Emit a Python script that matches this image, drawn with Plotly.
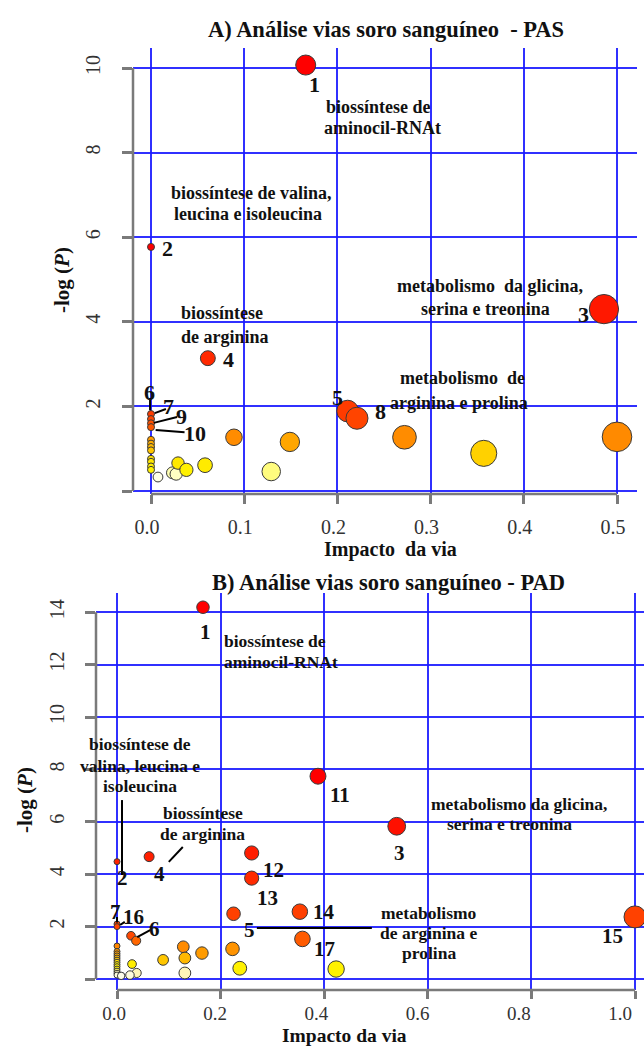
import math
import plotly.graph_objects as go

W, H = 644, 1046
FONT = "Liberation Serif"

# ---------------- data: panel A (PAS) ----------------
a_impact = [0.166, 0.0, 0.486, 0.061, 0.211, 0.221,
            0.0, 0.0, 0.0, 0.0,
            0.0, 0.0, 0.0, 0.0, 0.0, 0.0, 0.0, 0.0,
            0.0075, 0.023, 0.027, 0.029, 0.038, 0.058,
            0.089, 0.149, 0.129, 0.272, 0.357, 0.500]
a_logp = [10.07, 5.77, 4.30, 3.14, 1.89, 1.72,
          1.82, 1.70, 1.60, 1.51,
          1.21, 1.12, 1.04, 0.96, 0.76, 0.69, 0.58, 0.50,
          0.33, 0.43, 0.40, 0.66, 0.50, 0.61,
          1.27, 1.16, 0.46, 1.27, 0.89, 1.28]

# ---------------- data: panel B (PAD) ----------------
b_impact = [0.166, 0.0, 0.540, 0.062, 0.225, 0.388, 0.260, 0.260, 0.353, 1.0,
            0.027, 0.037, 0.358,
            0.0, 0.0, 0.0, 0.0, 0.0, 0.0, 0.0, 0.0, 0.0, 0.0, 0.0, 0.0, 0.0, 0.0, 0.0,
            0.423, 0.237, 0.223, 0.128, 0.131, 0.131, 0.164, 0.089, 0.029, 0.038,
            0.025, 0.008]
b_logp = [14.19, 4.48, 5.83, 4.67, 2.49, 7.74, 4.81, 3.85, 2.57, 2.37,
          1.65, 1.46, 1.53,
          2.10, 2.00, 1.26, 1.05, 0.96, 0.88, 0.80, 0.72, 0.64, 0.55, 0.47, 0.38,
          0.30, 0.22, 0.15,
          0.38, 0.41, 1.15, 1.23, 0.80, 0.23, 0.99, 0.73, 0.57, 0.23,
          0.15, 0.12]

a_xticks = [0.0, 0.1, 0.2, 0.3, 0.4, 0.5]
a_xticklabels = ["0.0", "0.1", "0.2", "0.3", "0.4", "0.5"]
a_yticks = [0, 2, 4, 6, 8, 10]
a_yticklabels = ["", "2", "4", "6", "8", "10"]
b_xticks = [0.0, 0.2, 0.4, 0.6, 0.8, 1.0]
b_xticklabels = ["0.0", "0.2", "0.4", "0.6", "0.8", "1.0"]
b_yticks = [0, 2, 4, 6, 8, 10, 12, 14]
b_yticklabels = ["", "2", "4", "6", "8", "10", "12", "14"]

a_title = "A) Análise vias soro sanguíneo  - PAS"
b_title = "B) Análise vias soro sanguíneo - PAD"
a_xtitle = "Impacto  da via"
b_xtitle = "Impacto da via"
y_title = "-log (<i>P</i>)"

# labels: (text, x, y, size, xanchor)
a_labels = [
    ("1", 0.175, 9.60, 22, "center"),
    ("biossíntese de", 0.186, 9.08, 18, "left"),
    ("aminocil-RNAt", 0.183, 8.58, 18, "left"),
    ("biossíntese de valina,", 0.019, 7.04, 18, "left"),
    ("leucina e isoleucina", 0.023, 6.55, 18, "left"),
    ("2", 0.018, 5.74, 22, "center"),
    ("metabolismo  da glicina,", 0.364, 4.85, 18, "center"),
    ("serina e treonina", 0.359, 4.30, 18, "center"),
    ("3", 0.464, 4.18, 22, "center"),
    ("biossíntese", 0.030, 4.21, 18, "left"),
    ("de arginina", 0.030, 3.64, 18, "left"),
    ("4", 0.083, 3.10, 22, "center"),
    ("metabolismo  de", 0.334, 2.67, 18, "center"),
    ("arginina e prolina", 0.330, 2.08, 18, "center"),
    ("5", 0.200, 2.22, 22, "center"),
    ("8", 0.246, 1.87, 22, "center"),
    ("6", -0.002, 2.34, 22, "center"),
    ("7", 0.019, 1.99, 22, "center"),
    ("9", 0.033, 1.75, 22, "center"),
    ("10", 0.047, 1.37, 22, "center"),
]
a_leaders = [(-0.001, 2.20, -0.001, 1.91), (0.004, 1.84, 0.016, 1.94),
             (0.003, 1.61, 0.028, 1.75), (0.005, 1.44, 0.036, 1.39)]

b_labels = [
    ("1", 0.170, 13.24, 21, "center"),
    ("biossíntese de", 0.203, 12.90, 17.5, "left"),
    ("aminocil-RNAt", 0.203, 12.10, 17.5, "left"),
    ("biossíntese de", 0.044, 8.97, 17.5, "center"),
    ("valina, leucina e", 0.044, 8.13, 17.5, "center"),
    ("isoleucina", 0.044, 7.37, 17.5, "center"),
    ("2", 0.0097, 3.85, 21, "center"),
    ("biossíntese", 0.166, 6.34, 17.5, "center"),
    ("de arginina", 0.166, 5.53, 17.5, "center"),
    ("4", 0.083, 4.01, 21, "center"),
    ("11", 0.430, 7.02, 21, "center"),
    ("metabolismo da glicina,", 0.776, 6.68, 17.5, "center"),
    ("serina e treonina", 0.757, 5.92, 17.5, "center"),
    ("3", 0.546, 4.81, 21, "center"),
    ("12", 0.303, 4.16, 21, "center"),
    ("13", 0.290, 3.09, 21, "center"),
    ("14", 0.400, 2.56, 21, "center"),
    ("17", 0.400, 1.15, 21, "center"),
    ("15", 0.956, 1.64, 21, "center"),
    ("5", 0.255, 1.87, 21, "center"),
    ("metabolismo", 0.602, 2.52, 17.5, "center"),
    ("de arginina e", 0.602, 1.76, 17.5, "center"),
    ("prolina", 0.602, 0.99, 17.5, "center"),
    ("7", -0.002, 2.56, 21, "center"),
    ("16", 0.031, 2.37, 21, "center"),
    ("6", 0.073, 1.91, 21, "center"),
]
b_leaders = [(0.0097, 6.83, 0.0097, 3.97), (0.100, 4.47, 0.127, 5.04),
             (0.270, 1.95, 0.492, 1.95), (0.039, 1.60, 0.064, 1.87),
             (0.006, 2.06, 0.015, 2.18), (0.0, 2.37, 0.0, 2.16)]

a_color_stops = [(0.30, "#FFFFF5"), (0.45, "#FFFFA8"), (0.49, "#FFF200"), (0.70, "#FFE600"),
                 (0.90, "#FFD000"), (1.10, "#FFB000"), (1.20, "#FFA000"), (1.27, "#FF8C00"),
                 (1.50, "#FF5A00"), (1.80, "#FF3C00"), (3.2, "#FF2800"), (4.3, "#FF1800"),
                 (5.8, "#FF0000")]
b_color_stops = [(0.10, "#FFFFF5"), (0.25, "#FFF5B0"), (0.35, "#FFF200"), (0.60, "#FFEE00"),
                 (0.75, "#FFC000"), (0.85, "#FFB000"), (1.0, "#FF9A00"), (1.2, "#FF9000"),
                 (1.3, "#FF8000"), (1.5, "#FF6000"), (1.65, "#FF4800"), (2.5, "#FF4000"),
                 (4.0, "#FF2800"), (5.8, "#FF1000"), (7.7, "#FF0000")]


def scale(stops):
    lo, hi = stops[0][0], stops[-1][0]
    return [[(v - lo) / (hi - lo), c] for v, c in stops], lo, hi


def px(x):
    return x / W


def py(y):
    return 1 - y / H


GRID = "rgba(25,25,255,0.9)"
AX = "#7a7a7a"

fig = go.Figure()
for imp, lp, stops, xa, ya, r0, k in [
    (a_impact, a_logp, a_color_stops, "x", "y", 3.5, 16),
    (b_impact, b_logp, b_color_stops, "x2", "y2", 3.0, 8),
]:
    cs, lo, hi = scale(stops)
    fig.add_trace(go.Scatter(
        x=imp, y=lp, mode="markers", xaxis=xa, yaxis=ya, cliponaxis=False,
        hoverinfo="x+y", showlegend=False,
        marker=dict(size=[2 * (r0 + k * math.sqrt(v)) for v in imp], color=lp,
                    colorscale=cs, cmin=lo, cmax=hi, opacity=1,
                    line=dict(color="#3a3a3a", width=1)),
    ))
# empty trace so the label-only overlay axis of panel B is drawn
fig.add_trace(go.Scatter(x=[], y=[], xaxis="x3", yaxis="y2", showlegend=False,
                         hoverinfo="skip"))

TF = dict(family=FONT, size=20, color="#333")
common_x = dict(ticks="outside", tickwidth=2.5, tickcolor=AX, showgrid=True, gridcolor=GRID,
                gridwidth=1.6, zeroline=False, showline=False, tickfont=TF)
common_y = dict(common_x, tickangle=-90)

fig.update_layout(
    width=W, height=H, margin=dict(l=0, r=0, t=0, b=0),
    paper_bgcolor="white", plot_bgcolor="white",
    xaxis=dict(common_x, domain=[px(133), px(637)], range=[-0.01931, 0.52146], anchor="y",
               tickvals=a_xticks, ticktext=a_xticklabels, ticklen=9, ticklabelstandoff=6,
               ticklabelshift=-4),
    yaxis=dict(common_y, domain=[py(494), py(48)], range=[-0.0709, 10.473], anchor="x",
               tickvals=a_yticks, ticktext=a_yticklabels, ticklen=10, ticklabelstandoff=14),
    xaxis2=dict(common_x, domain=[px(96), 1.0], range=[-0.04054, 1.01737], anchor="y2",
                tickvals=b_xticks, ticktext=b_xticklabels, ticklen=8, showticklabels=False),
    xaxis3=dict(domain=[px(96), 1.0], range=[-0.0356, 1.0474], anchor="y2", overlaying="x2",
                side="bottom", tickvals=b_xticks, ticktext=b_xticklabels, ticks="",
                showgrid=False, zeroline=False, showline=False,
                tickfont=dict(TF, size=19), ticklabelstandoff=10),
    yaxis2=dict(common_y, domain=[py(990), py(593)], range=[-0.4198, 14.733], anchor="x2",
                tickvals=b_yticks, ticktext=b_yticklabels, ticklen=10, ticklabelstandoff=13),
)

shapes = [
    dict(type="line", xref="x domain", yref="y", x0=0, x1=0, y0=0, y1=10,
         line=dict(color=AX, width=2.5)),
    dict(type="line", xref="x", yref="y domain", x0=0, x1=0.5, y0=0, y1=0,
         line=dict(color=AX, width=2.5)),
    dict(type="line", xref="x2 domain", yref="y2", x0=0, x1=0, y0=0, y1=14,
         line=dict(color=AX, width=2.5)),
    dict(type="line", xref="x2", yref="y2 domain", x0=0, x1=1.0, y0=0, y1=0,
         line=dict(color=AX, width=2.5)),
]
for (x0, y0, x1, y1) in a_leaders:
    shapes.append(dict(type="line", xref="x", yref="y", x0=x0, y0=y0, x1=x1, y1=y1,
                       line=dict(color="black", width=2)))
for (x0, y0, x1, y1) in b_leaders:
    shapes.append(dict(type="line", xref="x2", yref="y2", x0=x0, y0=y0, x1=x1, y1=y1,
                       line=dict(color="black", width=2)))
fig.update_layout(shapes=shapes)

ann = []
for labels, xr, yr in [(a_labels, "x", "y"), (b_labels, "x2", "y2")]:
    for t, x, y, s, xa in labels:
        ann.append(dict(text=f"<b>{t}</b>", x=x, y=y, xref=xr, yref=yr, xanchor=xa,
                        yanchor="middle", showarrow=False,
                        font=dict(family=FONT, size=s, color="#111")))

for t, x, y, s, ang in [
    (a_title, 386, 30, 22.5, 0), (b_title, 388, 582, 22.5, 0),
    (a_xtitle, 391, 549, 20, 0), (b_xtitle, 344, 1035, 19.5, 0),
    (y_title, 62, 280, 21, -90), (y_title, 25, 800, 21, -90),
]:
    ann.append(dict(text=f"<b>{t}</b>", x=px(x), y=py(y), xref="paper", yref="paper",
                    xanchor="center", yanchor="middle", showarrow=False, textangle=ang,
                    font=dict(family=FONT, size=s, color="#111")))
fig.update_layout(annotations=ann)

fig.write_html("out.html")
